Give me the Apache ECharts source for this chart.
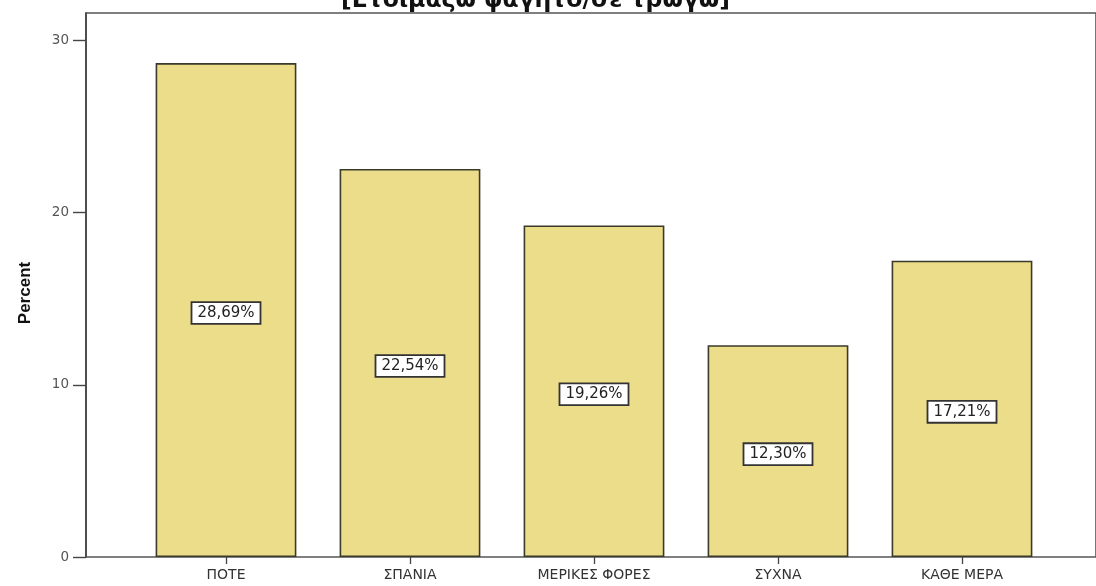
<!DOCTYPE html>
<html>
<head>
<meta charset="utf-8">
<script src="https://cdn.jsdelivr.net/npm/echarts@6/dist/echarts.min.js"></script>
<style>
  html, body { margin: 0; padding: 0; background: #ffffff; }
  #chart { width: 1096px; height: 586px; }
</style>
</head>
<body>
<div id="chart"></div>
<script>
// Frequency distribution (percent of respondents)
const titleText = '[Ετοιμάζω φαγητό/σε τρώγω]';
const categories = ['ΠΟΤΕ', 'ΣΠΑΝΙΑ', 'ΜΕΡΙΚΕΣ ΦΟΡΕΣ', 'ΣΥΧΝΑ', 'ΚΑΘΕ ΜΕΡΑ'];
const percents = [28.69, 22.54, 19.26, 12.30, 17.21];
const yTicks = [0, 10, 20, 30];
const yMax = 31.6;

const fmt = v => v.toFixed(2).replace('.', ',') + '%';

const chart = echarts.init(document.getElementById('chart'));
chart.setOption({
  animation: false,
  backgroundColor: '#ffffff',
  title: {
    text: titleText,
    left: 336,
    top: -16,
    textStyle: { fontFamily: 'DejaVu Sans', fontWeight: 'bold', fontSize: 23.5, color: '#111' }
  },
  grid: [
    // outer frame: axes span the full plotting box
    { left: 86, right: -2, top: 13, bottom: 29, show: true, borderColor: '#555', borderWidth: 1.6, backgroundColor: 'transparent' },
    // inner band where the bars sit
    { left: 134, right: 42, top: 13, bottom: 29 }
  ],
  xAxis: [
    { gridIndex: 0, type: 'value', min: 0, max: 1, show: false },
    {
      gridIndex: 1, type: 'category', data: categories,
      axisLine: { show: false },
      axisTick: { show: true, alignWithLabel: true, length: 7, lineStyle: { color: '#444', width: 1.3 } },
      axisLabel: { color: '#333', fontFamily: 'DejaVu Sans', fontSize: 14, margin: 11 }
    }
  ],
  yAxis: [
    {
      gridIndex: 0, type: 'value', min: 0, max: yMax, interval: 10,
      name: 'Percent', nameLocation: 'middle', nameGap: 52, nameRotate: 90,
      nameTextStyle: { fontFamily: 'Liberation Sans', fontWeight: 'bold', fontSize: 17, color: '#111', padding: [0, 16, 0, 0] },
      axisLine: { show: true, lineStyle: { color: '#444', width: 1.6 } },
      axisTick: { show: true, length: 13, customValues: yTicks, lineStyle: { color: '#444', width: 1.4 } },
      axisLabel: {
        color: '#555', fontFamily: 'DejaVu Sans', fontSize: 13.5, margin: 17,
        customValues: yTicks
      },
      splitLine: { show: false }
    },
    { gridIndex: 1, type: 'value', min: 0, max: yMax, interval: 10, show: false }
  ],
  series: [{
    type: 'bar',
    xAxisIndex: 1, yAxisIndex: 1,
    data: percents,
    barCategoryGap: '23.5%',
    itemStyle: { color: '#ecdd8a', borderColor: '#3a3a2a', borderWidth: 1.6 },
    label: {
      show: true, position: 'inside', offset: [0, 3],
      formatter: p => fmt(p.value),
      color: '#222', fontFamily: 'DejaVu Sans', fontSize: 15,
      backgroundColor: '#ffffff', borderColor: '#333', borderWidth: 1.8,
      padding: [3, 5, 2, 5]
    }
  }]
});
</script>
</body>
</html>
